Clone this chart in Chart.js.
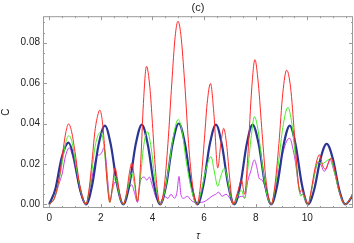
<!DOCTYPE html>
<html>
<head>
<meta charset="utf-8">
<script src="https://cdn.jsdelivr.net/npm/chart.js@4.4.1/dist/chart.umd.min.js"></script>
<style>
  html, body { margin: 0; padding: 0; background: #fff; }
  #wrap { width: 354px; height: 243px; }
</style>
</head>
<body>
<div id="wrap"><canvas id="chart" width="354" height="243"></canvas></div>
<script>
// values (tau, C)
const redTau = [0, 0.2, 0.4, 0.55, 0.65, 0.75, 0.85, 1.0, 1.15, 1.3, 1.42,
  1.55, 1.65, 1.77, 1.9, 1.96, 2.05, 2.15, 2.25, 2.35, 2.45, 2.55, 2.65, 2.75, 2.87,
  3.0, 3.1, 3.2, 3.3, 3.42, 3.55, 3.65, 3.77, 3.9, 4.0, 4.1, 4.2, 4.3,
  4.45, 4.6, 4.75, 4.88, 4.99, 5.1, 5.25, 5.4, 5.55, 5.72,
  5.85, 6.0, 6.12, 6.25, 6.38, 6.53, 6.65, 6.76, 6.87, 7.0, 7.12,
  7.3, 7.45, 7.57, 7.7, 7.85, 7.97, 8.1, 8.25, 8.4, 8.6,
  8.75, 8.9, 9.05, 9.2, 9.35, 9.5, 9.62, 9.72, 9.78, 9.9, 10.03,
  10.15, 10.3, 10.47, 10.6, 10.7, 10.8, 10.92, 11.1, 11.25, 11.47, 11.77];
const redC = [0, 0.003, 0.014, 0.028, 0.036, 0.0398, 0.037, 0.026, 0.012, 0.003, 0,
  0.008, 0.020, 0.036, 0.045, 0.0466, 0.042, 0.028, 0.010, 0.001, 0.009, 0.018, 0.012, 0.004, 0,
  0.006, 0.015, 0.0205, 0.013, 0.0015, 0.022, 0.050, 0.0683, 0.058, 0.040, 0.020, 0.006, 0,
  0.008, 0.030, 0.060, 0.083, 0.0906, 0.084, 0.060, 0.030, 0.010, 0,
  0.008, 0.030, 0.050, 0.0598, 0.045, 0.018, 0.030, 0.0376, 0.030, 0.012, 0,
  0.006, 0.012, 0.005, 0.025, 0.058, 0.0716, 0.060, 0.035, 0.012, 0,
  0.010, 0.030, 0.055, 0.0664, 0.058, 0.035, 0.015, 0.006, 0.0072, 0.004, 0,
  0.007, 0.018, 0.0245, 0.019, 0.0174, 0.020, 0.0229, 0.015, 0.006, 0, 0.005];

const greenTau = [0, 0.2, 0.4, 0.55, 0.65, 0.76, 0.88, 1.0, 1.15, 1.3, 1.42,
  1.55, 1.65, 1.77, 1.9, 2.0, 2.1, 2.2, 2.28, 2.35, 2.45, 2.55, 2.65, 2.75, 2.87,
  3.0, 3.1, 3.2, 3.3, 3.42, 3.55, 3.65, 3.8, 3.95, 4.1, 4.3,
  4.5, 4.65, 4.8, 5.0, 5.15, 5.3, 5.5, 5.72,
  5.9, 6.05, 6.27, 6.4, 6.53, 6.65, 6.79, 6.9, 7.0, 7.15,
  7.3, 7.45, 7.57, 7.7, 7.85, 7.95, 8.1, 8.25, 8.4, 8.6,
  8.75, 8.9, 9.05, 9.25, 9.4, 9.55, 9.65, 9.75, 9.82, 9.9, 10.03,
  10.15, 10.3, 10.42, 10.55, 10.65, 10.8, 10.9, 11.05, 11.2, 11.35, 11.47, 11.77];
const greenC = [0, 0.003, 0.013, 0.024, 0.031, 0.034, 0.031, 0.022, 0.011, 0.003, 0,
  0.007, 0.016, 0.028, 0.0345, 0.0355, 0.031, 0.018, 0.007, 0.001, 0.008, 0.014, 0.009, 0.003, 0,
  0.005, 0.011, 0.0155, 0.010, 0.002, 0.015, 0.028, 0.036, 0.028, 0.012, 0,
  0.008, 0.020, 0.033, 0.042, 0.036, 0.022, 0.008, 0,
  0.007, 0.016, 0.0236, 0.016, 0.009, 0.014, 0.0179, 0.013, 0.006, 0,
  0.004, 0.007, 0.003, 0.018, 0.036, 0.0434, 0.036, 0.020, 0.007, 0,
  0.008, 0.022, 0.038, 0.048, 0.040, 0.022, 0.010, 0.004, 0.005, 0.003, 0,
  0.006, 0.016, 0.0213, 0.020, 0.0205, 0.022, 0.0224, 0.016, 0.008, 0.002, 0, 0.005];

const blueTau = [0, 0.24, 0.48, 0.75, 0.96, 1.19, 1.43,
  1.67, 1.91, 2.16, 2.39, 2.63, 2.87,
  3.11, 3.35, 3.59, 3.82, 4.06, 4.30,
  4.54, 4.78, 5.02, 5.26, 5.50, 5.74,
  5.98, 6.22, 6.46, 6.69, 6.93, 7.17,
  7.41, 7.65, 7.88, 8.12, 8.36, 8.60,
  8.84, 9.08, 9.32, 9.55, 9.79, 10.03,
  10.27, 10.51, 10.75, 10.99, 11.23, 11.47, 11.77];
const blueC = [0, 0.0076, 0.0229, 0.0305, 0.0229, 0.0076, 0,
  0.0098, 0.0293, 0.039, 0.0293, 0.0098, 0,
  0.0099, 0.0296, 0.0395, 0.0296, 0.0099, 0,
  0.010, 0.030, 0.040, 0.030, 0.010, 0,
  0.0099, 0.0296, 0.0395, 0.0296, 0.0099, 0,
  0.0099, 0.0296, 0.0395, 0.0296, 0.0099, 0,
  0.0098, 0.0293, 0.039, 0.0293, 0.0098, 0,
  0.0075, 0.0225, 0.030, 0.0225, 0.0075, 0, 0.0045];

const magTau = [0, 0.2, 0.4, 0.5, 0.6, 0.68, 0.78, 0.9, 1.0, 1.15, 1.3, 1.42,
  1.55, 1.7, 1.85, 1.96, 2.05, 2.12, 2.2, 2.28, 2.35, 2.45, 2.55, 2.65, 2.75, 2.87,
  3.0, 3.1, 3.2, 3.3, 3.42, 3.5, 3.58, 3.68, 3.78, 3.88, 4.0, 4.15, 4.3,
  4.45, 4.6, 4.72, 4.85, 4.95, 5.03, 5.1, 5.2, 5.35, 5.5, 5.65, 5.9,
  6.1, 6.3, 6.45, 6.57, 6.7, 6.85, 7.0, 7.15,
  7.3, 7.49, 7.57, 7.7, 7.8, 7.95, 8.05, 8.13, 8.25, 8.35, 8.45, 8.6,
  8.8, 8.95, 9.19, 9.32, 9.45, 9.55, 9.65, 9.77, 9.85, 9.92, 10.03,
  10.15, 10.3, 10.42, 10.55, 10.65, 10.75, 10.88, 11.0, 11.15, 11.3, 11.47, 11.77];
const magC = [0, 0.003, 0.011, 0.015, 0.022, 0.026, 0.028, 0.024, 0.018, 0.009, 0.002, 0,
  0.006, 0.016, 0.024, 0.0245, 0.026, 0.028, 0.022, 0.010, 0.002, 0.007, 0.011, 0.009, 0.003, 0,
  0.004, 0.008, 0.0097, 0.006, 0.001, 0.009, 0.013, 0.0135, 0.012, 0.0135, 0.009, 0.003, 0.001,
  0.004, 0.003, 0.005, 0.003, 0.006, 0.0138, 0.005, 0.003, 0.004, 0.002, 0.001, 0.001,
  0.002, 0.004, 0.005, 0.006, 0.004, 0.005, 0.003, 0,
  0.003, 0.004, 0.003, 0.012, 0.016, 0.022, 0.018, 0.013, 0.012, 0.009, 0.004, 0,
  0.010, 0.020, 0.031, 0.0327, 0.027, 0.020, 0.010, 0.0048, 0.005, 0.003, 0,
  0.006, 0.016, 0.021, 0.019, 0.0163, 0.018, 0.0224, 0.018, 0.011, 0.004, 0, 0.005];

const xTicks = [0, 2, 4, 6, 8, 10];
const yTicks = [0, 0.02, 0.04, 0.06, 0.08];

function pts(t, c) {
  return t.map((v, i) => ({ x: v, y: c[i] }));
}

// inward frame ticks, Mathematica style
const frameTicks = {
  id: 'frameTicks',
  afterDatasetsDraw(chart) {
    const { ctx, chartArea: a, scales: { x, y } } = chart;
    ctx.save();
    ctx.strokeStyle = '#9a9a9a';
    ctx.lineWidth = 1;
    ctx.beginPath();
    for (let k = 0; k <= 23; k++) {
      const v = k * 0.5;
      const px = Math.round(x.getPixelForValue(v)) + 0.5;
      const len = k % 4 === 0 ? 4 : 2;
      ctx.moveTo(px, a.bottom); ctx.lineTo(px, a.bottom - len);
      ctx.moveTo(px, a.top); ctx.lineTo(px, a.top + len);
    }
    for (let k = 0; k <= 18; k++) {
      const v = k * 0.005;
      const py = Math.round(y.getPixelForValue(v)) + 0.5;
      const len = k % 4 === 0 ? 4 : 2;
      ctx.moveTo(a.left, py); ctx.lineTo(a.left + len, py);
      ctx.moveTo(a.right, py); ctx.lineTo(a.right - len, py);
    }
    ctx.stroke();
    ctx.strokeRect(a.left + 0.5, a.top + 0.5, a.right - a.left - 1, a.bottom - a.top - 1);
    ctx.restore();
  }
};

const font = { family: 'Liberation Sans, Arial, sans-serif', size: 10 };

new Chart(document.getElementById('chart'), {
  type: 'line',
  data: {
    datasets: [
      { data: pts(redTau, redC), borderColor: '#ff2a2a', borderWidth: 1 },
      { data: pts(greenTau, greenC), borderColor: '#44ee22', borderWidth: 1 },
      { data: pts(blueTau, blueC), borderColor: '#2b3593', borderWidth: 2.2 },
      { data: pts(magTau, magC), borderColor: '#c83cf0', borderWidth: 1 }
    ]
  },
  options: {
    responsive: false,
    animation: false,
    devicePixelRatio: 1,
    layout: { padding: { left: 0, right: 1, top: 0, bottom: 0 } },
    elements: {
      point: { radius: 0 },
      line: { cubicInterpolationMode: 'monotone', fill: false }
    },
    plugins: {
      legend: { display: false },
      tooltip: { enabled: false },
      title: {
        display: true, text: '(c)', fullSize: false, color: '#222',
        font: { family: font.family, size: 11, weight: 'normal' }, padding: { top: 1, bottom: 2 }
      }
    },
    scales: {
      x: {
        type: 'linear', min: -0.24, max: 11.77,
        grid: { display: false, drawTicks: false },
        border: { display: false },
        afterBuildTicks: s => { s.ticks = xTicks.map(v => ({ value: v })); },
        afterFit: s => { s.height = 35; },
        ticks: { font, color: '#222', padding: 4, maxRotation: 0, callback: v => String(v) },
        title: { display: true, text: 'τ', color: '#222', font: { family: font.family, size: 10, style: 'italic' }, padding: { top: 0, bottom: 1 } }
      },
      y: {
        type: 'linear', min: -0.0018, max: 0.0931,
        grid: { display: false, drawTicks: false },
        border: { display: false },
        afterBuildTicks: s => { s.ticks = yTicks.map(v => ({ value: v })); },
        afterFit: s => { s.width = 43; },
        ticks: { font, color: '#222', padding: 3, callback: v => v.toFixed(2) },
        title: { display: true, text: 'C', color: '#222', font: { family: font.family, size: 10 }, padding: 0 }
      }
    }
  },
  plugins: [frameTicks]
});
</script>
</body>
</html>
